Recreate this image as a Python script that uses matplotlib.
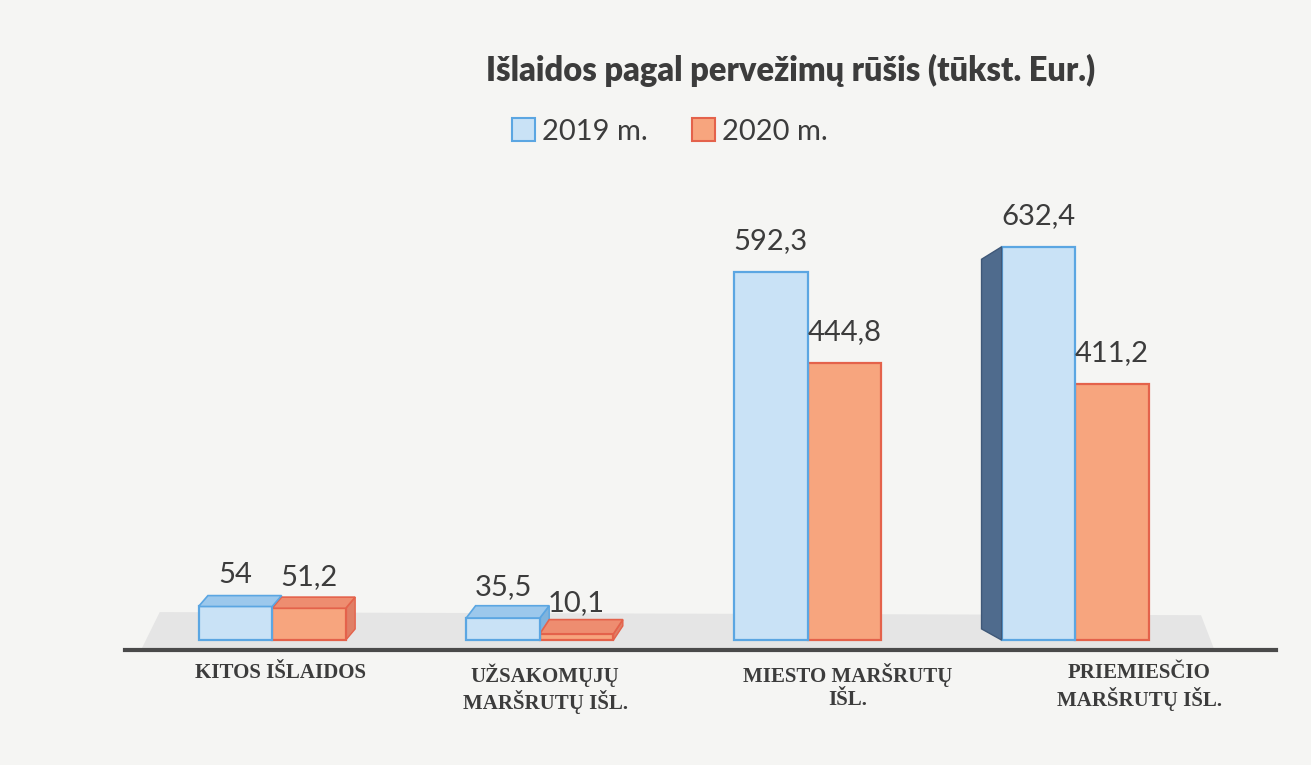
import matplotlib.pyplot as plt
from matplotlib.patches import Patch, Polygon

# Duomenys
kategorijos = ['KITOS IŠLAIDOS', 'UŽSAKOMŲJŲ\nMARŠRUTŲ IŠL.',
               'MIESTO MARŠRUTŲ\nIŠL.', 'PRIEMIESČIO\nMARŠRUTŲ IŠL.']
metai = ['2019 m.', '2020 m.']
v2019 = [54, 35.5, 592.3, 632.4]
v2020 = [51.2, 10.1, 444.8, 411.2]
zymes2019 = ['54', '35,5', '592,3', '632,4']
zymes2020 = ['51,2', '10,1', '444,8', '411,2']

# Spalvos
fonas = '#f5f5f3'
melyna, melyna_k = '#c9e2f6', '#5ba6e2'
oranz, oranz_k = '#f7a57e', '#e4624b'
teksto = '#3c3c3c'

fig = plt.figure(figsize=(13.11, 7.65), dpi=100, facecolor=fonas)
ax = fig.add_axes([0.0953, 0.1438, 0.878, 0.595])
ax.set_facecolor('none')
ax.set_xlim(-0.55, 3.75)
ax.set_ylim(-24, 708)
ax.axis('off')

# pilkos "grindys"
ax.add_patch(Polygon([(-0.49, -16), (3.52, -16), (3.47, 40), (-0.42, 45)],
                     closed=True, facecolor='#e5e5e5', edgecolor='none', zorder=0, clip_on=False))
ax.axhline(-16, color='#4a4a4a', lw=3, zorder=1, clip_on=False)

plotis = 0.275
poslinkis = 0.035
akis = 200


def stulpelis(x, v, fill, edge, virsus, sonas):
    ax.bar(x, v, width=plotis, align='edge', color=fill, edgecolor=edge, lw=1.6, zorder=3)
    gylis = max(0, akis - v) * 0.12
    if gylis > 0:
        # virsus ir sonas
        ax.add_patch(Polygon([(x, v), (x + plotis, v), (x + plotis + poslinkis, v + gylis),
                              (x + poslinkis, v + gylis)], closed=True, facecolor=virsus,
                             edgecolor=edge, lw=1.2, zorder=3))
        ax.add_patch(Polygon([(x + plotis, 0), (x + plotis, v), (x + plotis + poslinkis, v + gylis),
                              (x + plotis + poslinkis, gylis)], closed=True, facecolor=sonas,
                             edgecolor=edge, lw=1.0, zorder=2))


for i in range(len(kategorijos)):
    xb = i - plotis
    xo = i
    stulpelis(xo, v2020[i], oranz, oranz_k, '#ee8d70', '#e07f66')
    stulpelis(xb, v2019[i], melyna, melyna_k, '#9cc8ec', '#7fb3dc')
    ax.annotate(zymes2019[i], (xb + plotis / 2, v2019[i]), xytext=(0, 13), textcoords='offset points',
                ha='center', va='bottom', fontsize=21, color=teksto, family='Lato', zorder=5)
    ax.annotate(zymes2020[i], (xo + plotis / 2, v2020[i]), xytext=(0, 13), textcoords='offset points',
                ha='center', va='bottom', fontsize=21, color=teksto, family='Lato', zorder=5)

# tamsus sonas ketvirtam stulpeliui
xl = 3 - plotis
ax.add_patch(Polygon([(xl - 0.075, v2019[3] - 20), (xl, v2019[3]), (xl, 0), (xl - 0.075, 18)],
                     closed=True, facecolor='#4f6b8d', edgecolor='#3f5878', lw=1, zorder=3))

# kategoriju pavadinimai (perspektyvos poslinkis)
pavad_poslinkis = [0.03, 0.02, 0.15, 0.24]
for i, k in enumerate(kategorijos):
    ax.text(i + pavad_poslinkis[i], -37, k, ha='center', va='top', fontsize=15,
            family='Liberation Serif', fontweight='bold', color=teksto, linespacing=1.2,
            clip_on=False)

fig.text(0.603, 0.908, 'Išlaidos pagal pervežimų rūšis (tūkst. Eur.)', ha='center', va='center',
         fontsize=23.5, fontweight='heavy', family='Lato', color=teksto)

rankenos = [Patch(facecolor=melyna, edgecolor=melyna_k, lw=1.5),
            Patch(facecolor=oranz, edgecolor=oranz_k, lw=1.5)]
leg = fig.legend(rankenos, metai, loc='center', bbox_to_anchor=(0.511, 0.828), ncol=2,
                 frameon=False, prop={'family': 'Lato', 'size': 21}, handlelength=0.8,
                 handleheight=0.8, handletextpad=0.25, columnspacing=1.5)
for t in leg.get_texts():
    t.set_color(teksto)

fig.savefig('out.png', dpi=100, facecolor=fonas)
